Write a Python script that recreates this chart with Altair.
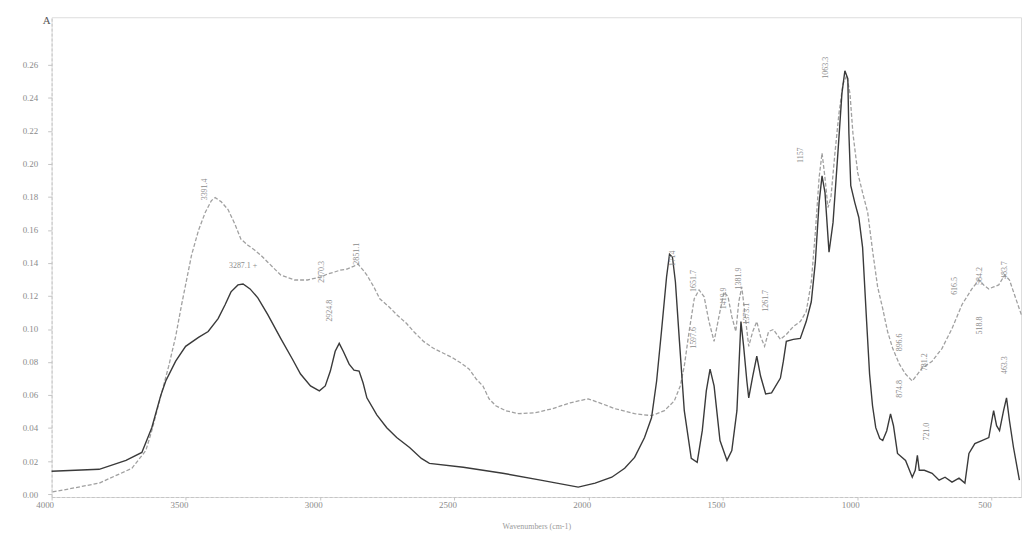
import altair as alt
import pandas as pd

# ---- solid (dark) spectrum: wavenumber (cm-1) / absorbance
wn_black = [4000, 3823, 3723, 3664, 3627, 3594, 3575, 3538, 3501, 3453, 3417, 3380, 3354, 3332,
            3306, 3287, 3261, 3232, 3195, 3147, 3103, 3073, 3036, 3003, 2981, 2962, 2944, 2929,
            2914, 2892, 2874, 2855, 2840, 2826, 2789, 2752, 2715, 2667, 2623, 2593, 2467, 2320,
            2179, 2039, 1976, 1914, 1866, 1829, 1792, 1766, 1747, 1729, 1710, 1699, 1688, 1677,
            1662, 1644, 1618, 1596, 1577, 1562, 1548, 1533, 1511, 1485, 1467, 1448, 1433, 1423,
            1411, 1404, 1389, 1374, 1360, 1341, 1319, 1286, 1275, 1264, 1238, 1212, 1190, 1171,
            1156, 1142, 1131, 1120, 1105, 1090, 1072, 1057, 1046, 1035, 1031, 1024, 1009, 994,
            980, 965, 954, 943, 931, 916, 905, 890, 876, 865, 850, 820, 795, 784, 776, 769, 750,
            721, 695, 673, 647, 621, 599, 584, 562, 536, 510, 499, 492, 481, 470, 455, 444, 433,
            418, 396]
abs_black = [0.0138, 0.0150, 0.0204, 0.0252, 0.0402, 0.0595, 0.0685, 0.0805, 0.0895, 0.0949,
             0.0985, 0.1063, 0.1147, 0.1225, 0.1267, 0.1273, 0.1243, 0.1189, 0.1087, 0.0943,
             0.0817, 0.0727, 0.0655, 0.0625, 0.0655, 0.0745, 0.0865, 0.0913, 0.0865, 0.0787,
             0.0751, 0.0745, 0.0673, 0.0583, 0.0480, 0.0402, 0.0342, 0.0282, 0.0216, 0.0186,
             0.0162, 0.0126, 0.0084, 0.0042, 0.0066, 0.0102, 0.0156, 0.0222, 0.0342, 0.0462,
             0.0685, 0.0985, 0.1315, 0.1453, 0.1435, 0.1285, 0.0925, 0.0505, 0.0216, 0.0192,
             0.0384, 0.0625, 0.0757, 0.0655, 0.0324, 0.0204, 0.0264, 0.0505, 0.1045, 0.0895,
             0.0685, 0.0583, 0.0715, 0.0835, 0.0715, 0.0607, 0.0613, 0.0703, 0.0805, 0.0925,
             0.0937, 0.0943, 0.1045, 0.1165, 0.1405, 0.1766, 0.1928, 0.1826, 0.1465, 0.1646,
             0.2066, 0.2426, 0.2565, 0.2517, 0.2186, 0.1868, 0.1766, 0.1676, 0.1495, 0.1045,
             0.0727, 0.0535, 0.0402, 0.0336, 0.0324, 0.0384, 0.0486, 0.0414, 0.0246, 0.0204,
             0.0102, 0.0144, 0.0234, 0.0144, 0.0144, 0.0126, 0.0084, 0.0102, 0.0072, 0.0096,
             0.0066, 0.0246, 0.0306, 0.0324, 0.0342, 0.0444, 0.0505, 0.0414, 0.0384, 0.0505,
             0.0583, 0.0444, 0.0282, 0.0084]

# ---- dashed (grey) spectrum
wn_grey = [4000, 3978, 3823, 3701, 3649, 3627, 3601, 3564, 3538, 3516, 3479, 3453, 3428, 3405,
           3391, 3369, 3343, 3317, 3295, 3269, 3243, 3221, 3195, 3147, 3095, 3047, 2999, 2973,
           2947, 2925, 2900, 2874, 2859, 2840, 2826, 2800, 2778, 2744, 2715, 2678, 2652, 2615,
           2578, 2541, 2504, 2475, 2445, 2419, 2394, 2371, 2346, 2309, 2261, 2198, 2135, 2069,
           2002, 1950, 1902, 1829, 1766, 1718, 1681, 1659, 1644, 1626, 1607, 1589, 1570, 1552,
           1533, 1515, 1496, 1481, 1467, 1452, 1441, 1430, 1419, 1404, 1389, 1374, 1360, 1345,
           1330, 1312, 1286, 1264, 1238, 1212, 1190, 1171, 1156, 1142, 1131, 1120, 1109, 1098,
           1083, 1068, 1053, 1039, 1027, 1016, 998, 980, 961, 942, 924, 905, 887, 868, 843, 820,
           795, 758, 721, 684, 647, 610, 573, 547, 529, 510, 492, 473, 451, 433, 418, 389]
abs_grey = [0.0012, 0.0018, 0.0066, 0.0156, 0.0264, 0.0384, 0.0547, 0.0775, 0.0955, 0.1147,
            0.1447, 0.1598, 0.1706, 0.1778, 0.1796, 0.1772, 0.1724, 0.1634, 0.1544, 0.1508,
            0.1477, 0.1447, 0.1405, 0.1327, 0.1297, 0.1297, 0.1315, 0.1333, 0.1345, 0.1357,
            0.1363, 0.1381, 0.1393, 0.1357, 0.1327, 0.1255, 0.1183, 0.1135, 0.1087, 0.1033,
            0.0985, 0.0925, 0.0883, 0.0853, 0.0823, 0.0793, 0.0757, 0.0697, 0.0655, 0.0577,
            0.0535, 0.0505, 0.0487, 0.0493, 0.0517, 0.0553, 0.0577, 0.0547, 0.0517, 0.0487,
            0.0475, 0.0505, 0.0565, 0.0655, 0.0775, 0.0985, 0.1183, 0.1237, 0.1195, 0.1045,
            0.0925, 0.1075, 0.1225, 0.1195, 0.1075, 0.0985, 0.1165, 0.1255, 0.1105, 0.0895,
            0.0985, 0.1045, 0.0955, 0.0895, 0.0985, 0.0997, 0.0937, 0.0967, 0.1015, 0.1045,
            0.1105, 0.1285, 0.1585, 0.1916, 0.2066, 0.1916, 0.1736, 0.1796, 0.2066, 0.2306,
            0.2486, 0.2535, 0.2426, 0.2186, 0.1946, 0.1826, 0.1706, 0.1465, 0.1255, 0.1123,
            0.0985, 0.0883, 0.0787, 0.0727, 0.0685, 0.0763, 0.0805, 0.0883, 0.1003, 0.1147,
            0.1243, 0.1297, 0.1267, 0.1243, 0.1255, 0.1267, 0.1327, 0.1297, 0.1225, 0.1087]

# ---- vertical peak labels (text, wavenumber, absorbance at the label's lower end)
peak_text = ["3391.4", "2970.3", "2924.8", "2851.1", "1714", "1651.7", "1597.6", "1419.9",
             "1381.9", "1373.1", "1261.7", "1157", "1063.3", "896.6", "874.8", "781.2",
             "721.0", "616.5", "584.2", "518.8", "483.7", "463.3"]
peak_wn = [3428, 2992, 2962, 2863, 1685, 1607, 1607, 1496, 1441, 1411, 1341, 1208, 1116,
           839, 839, 747, 739, 636, 543, 543, 451, 451]
peak_a = [0.178, 0.128, 0.1045, 0.139, 0.138, 0.1225, 0.088, 0.112, 0.124, 0.1027, 0.1105,
          0.2006, 0.2517, 0.0865, 0.0583, 0.0745, 0.0324, 0.1207, 0.1267, 0.0967, 0.1303,
          0.0727]
# horizontal label
hlabel_text = ["3287.1 +"]
hlabel_wn = [3287]
hlabel_a = [0.138]

x_ticks = [4000, 3500, 3000, 2500, 2000, 1500, 1000, 500]
y_ticks = [0.00, 0.02, 0.04, 0.06, 0.08, 0.10, 0.12, 0.14, 0.16, 0.18, 0.20, 0.22, 0.24, 0.26]

df_b = pd.DataFrame({"wn": wn_black, "a": abs_black})
df_g = pd.DataFrame({"wn": wn_grey, "a": abs_grey})
df_p = pd.DataFrame({"wn": peak_wn, "a": peak_a, "t": peak_text})
df_h = pd.DataFrame({"wn": hlabel_wn, "a": hlabel_a, "t": hlabel_text})

xs = alt.Scale(domain=[390, 4000], reverse=True, nice=False, zero=False)
ys = alt.Scale(domain=[-0.0018, 0.2889], nice=False, zero=False)

xaxis = alt.Axis(values=x_ticks, format="d", title="Wavenumbers (cm-1)", grid=False,
                 labelFontSize=9, labelColor="#8a8a8a", titleFontSize=8, titleColor="#9a9a9a",
                 titleFontWeight="normal", domainColor="#c4c4c4", domainDash=[3, 2],
                 tickColor="#c4c4c4", tickSize=3, labelPadding=1, titlePadding=13,
                 labelFlush=False, labelOverlap=False, labelOffset=-7,
                 labelFont="Liberation Serif", titleFont="Liberation Serif")
yaxis = alt.Axis(values=y_ticks, format=".2f", title=None, grid=False,
                 labelFontSize=9, labelColor="#8a8a8a", domainColor="#c4c4c4", domainDash=[3, 2],
                 tickColor="#c4c4c4", tickSize=4, labelPadding=10, minExtent=38, maxExtent=38,
                 labelFlush=False, labelOverlap=False, labelSeparation=0,
                 labelFont="Liberation Serif")

X = alt.X("wn:Q", scale=xs, axis=xaxis)
Y = alt.Y("a:Q", scale=ys, axis=yaxis)

grey = alt.Chart(df_g).mark_line(color="#a0a0a0", strokeWidth=1.3, strokeDash=[4, 2]).encode(
    x=X, y=Y, order="wn:Q")
black = alt.Chart(df_b).mark_line(color="#3a3a3a", strokeWidth=1.4).encode(
    x=X, y=Y, order="wn:Q")
labels = alt.Chart(df_p).mark_text(angle=270, align="left", baseline="middle", fontSize=8,
                                   color="#8c8c8c", font="Liberation Serif").encode(
    x=X, y=Y, text="t:N")
hlabels = alt.Chart(df_h).mark_text(align="center", baseline="middle", fontSize=8,
                                    color="#8c8c8c", font="Liberation Serif").encode(
    x=X, y=Y, text="t:N")
panel = alt.Chart(pd.DataFrame({"t": ["A"]})).mark_text(
    fontSize=11, color="#555555", font="Liberation Serif", align="center", baseline="middle").encode(
    x=alt.value(-5), y=alt.value(4), text="t:N")

chart = alt.layer(grey, black, labels, hlabels, panel).properties(
    width=978, height=484,
    padding={"left": 6, "top": 5, "right": 0, "bottom": 4},
).configure_view(stroke=None).configure(background="white")

chart.save("out.html", embed_options={"renderer": "svg", "actions": False})
